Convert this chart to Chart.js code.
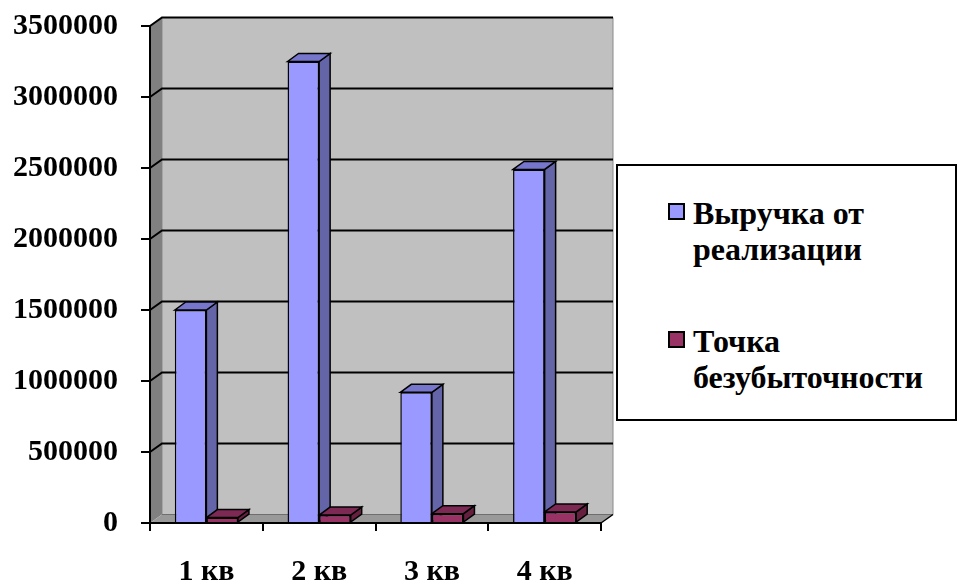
<!DOCTYPE html>
<html>
<head>
<meta charset="utf-8">
<script src="https://cdn.jsdelivr.net/npm/chart.js@4/dist/chart.umd.min.js"></script>
<style>
  html, body { margin: 0; padding: 0; background: #fff; }
  #wrap { position: relative; width: 958px; height: 582px; overflow: hidden; }
  #chart { position: absolute; left: 0; top: 0; }
  #legend {
    position: absolute; left: 616px; top: 164px; width: 341px; height: 257px;
    box-sizing: border-box; border: 2px solid #000; background: #fff;
    font: bold 32px "Liberation Serif", "Times New Roman", serif;
    line-height: 36px; color: #000;
  }
  .swatch { position: absolute; left: 50px; width: 17px; height: 17px; box-sizing: border-box; border: 2px solid #000; }
  .label { position: absolute; left: 75px; width: 258px; }
</style>
</head>
<body>
<div id="wrap">
  <canvas id="chart" width="958" height="582"></canvas>
  <div id="legend"></div>
</div>
<script>
// Quarters and the two series
const quarters = ['1 кв', '2 кв', '3 кв', '4 кв'];
const revenue = [1500000, 3250000, 920000, 2490000];
const breakEven = [38000, 56000, 66000, 78000];
const seriesNames = ['Выручка от реализации', 'Точка безубыточности'];
const yTickValues = [0, 500000, 1000000, 1500000, 2000000, 2500000, 3000000, 3500000];

// Face colours for the pseudo-3D columns: front, top, side
const faceColors = [
  { front: '#9999FF', top: '#7676CC', side: '#6464A8' },
  { front: '#993366', top: '#7C2A54', side: '#652040' }
];

// Depth offsets of the walls and of the columns
const WALL_DX = 12, WALL_DY = 8.5;
const BAR_DX = 11, BAR_DY = 8;

function poly(ctx, pts, fill, stroke, lw) {
  ctx.beginPath();
  ctx.moveTo(pts[0][0], pts[0][1]);
  for (let i = 1; i < pts.length; i++) ctx.lineTo(pts[i][0], pts[i][1]);
  ctx.closePath();
  if (fill) { ctx.fillStyle = fill; ctx.fill(); }
  if (stroke) { ctx.strokeStyle = stroke; ctx.lineWidth = lw || 1; ctx.stroke(); }
}

const depthPlugin = {
  id: 'depth3d',
  beforeDraw(chart) {
    const { ctx, chartArea: a, scales: { y } } = chart;
    ctx.save();
    // back wall
    poly(ctx, [[a.left + WALL_DX, a.top - WALL_DY], [a.right + WALL_DX, a.top - WALL_DY],
               [a.right + WALL_DX, a.bottom - WALL_DY], [a.left + WALL_DX, a.bottom - WALL_DY]],
         '#C0C0C0', '#8a8a8a', 1);
    // left side wall
    poly(ctx, [[a.left, a.top], [a.left + WALL_DX, a.top - WALL_DY],
               [a.left + WALL_DX, a.bottom - WALL_DY], [a.left, a.bottom]], '#808080');
    // floor
    poly(ctx, [[a.left, a.bottom], [a.right, a.bottom],
               [a.right + WALL_DX, a.bottom - WALL_DY], [a.left + WALL_DX, a.bottom - WALL_DY]], '#999999');
    ctx.lineJoin = 'miter';
    // floor edges
    ctx.beginPath();
    ctx.moveTo(a.left + WALL_DX, a.bottom - WALL_DY);
    ctx.lineTo(a.right + WALL_DX, a.bottom - WALL_DY);
    ctx.strokeStyle = '#6e6e6e'; ctx.lineWidth = 1; ctx.stroke();
    ctx.beginPath();
    ctx.moveTo(a.right, a.bottom);
    ctx.lineTo(a.right + WALL_DX, a.bottom - WALL_DY);
    ctx.strokeStyle = '#000'; ctx.lineWidth = 1.5; ctx.stroke();
    // gridlines running across the side wall and the back wall
    y.ticks.forEach(t => {
      if (t.value === 0) return;
      const py = y.getPixelForValue(t.value);
      ctx.beginPath();
      ctx.moveTo(a.left, py);
      ctx.lineTo(a.left + WALL_DX, py - WALL_DY);
      ctx.lineTo(a.right + WALL_DX, py - WALL_DY);
      ctx.strokeStyle = '#000'; ctx.lineWidth = 2; ctx.stroke();
    });
    ctx.restore();
  },
  beforeDatasetsDraw(chart) {
    const ctx = chart.ctx;
    ctx.save();
    ctx.lineJoin = 'miter';
    const n = chart.data.labels.length;
    for (let i = 0; i < n; i++) {
      chart.data.datasets.forEach((ds, d) => {
        const el = chart.getDatasetMeta(d).data[i];
        const p = el.getProps(['x', 'y', 'base', 'width'], true);
        const x1 = p.x - p.width / 2, x2 = p.x + p.width / 2;
        const c = faceColors[d];
        // side face
        poly(ctx, [[x2, p.y], [x2 + BAR_DX, p.y - BAR_DY], [x2 + BAR_DX, p.base - BAR_DY], [x2, p.base]],
             c.side, '#000', 1.5);
        // top face
        poly(ctx, [[x1, p.y], [x1 + BAR_DX, p.y - BAR_DY], [x2 + BAR_DX, p.y - BAR_DY], [x2, p.y]],
             c.top, '#000', 1.5);
      });
    }
    ctx.restore();
  }
};

const font = { family: '"Liberation Serif", "Times New Roman", serif', size: 30, weight: 'bold' };

new Chart(document.getElementById('chart'), {
  type: 'bar',
  data: {
    labels: quarters,
    datasets: [
      { label: seriesNames[0], data: revenue, backgroundColor: faceColors[0].front, borderColor: '#000', borderWidth: 1.5 },
      { label: seriesNames[1], data: breakEven, backgroundColor: faceColors[1].front, borderColor: '#000', borderWidth: 1.5 }
    ]
  },
  options: {
    responsive: false,
    animation: false,
    events: [],
    devicePixelRatio: 1,
    datasets: { bar: { categoryPercentage: 0.56, barPercentage: 1 } },
    layout: { padding: { top: 26, right: 357, left: 0, bottom: 0 } },
    plugins: { legend: { display: false }, tooltip: { enabled: false } },
    scales: {
      x: {
        z: 1,
        afterFit: s => { s.height = 59; s.paddingLeft = 0; s.paddingRight = 0; },
        ticks: { font, color: '#000', padding: 23 },
        grid: { drawOnChartArea: false, drawTicks: true, tickLength: 8, color: '#000', lineWidth: 2, offset: true },
        border: { display: true, color: '#000', width: 2 }
      },
      y: {
        z: 1,
        min: 0, max: 3500000,
        afterBuildTicks: s => { s.ticks = yTickValues.map(v => ({ value: v })); },
        afterFit: s => { s.width = 150; s.paddingTop = 0; s.paddingBottom = 0; },
        ticks: { font, color: '#000', padding: 23, callback: v => String(v) },
        grid: { drawOnChartArea: false, drawTicks: true, tickLength: 9, color: '#000', lineWidth: 2 },
        border: { display: true, color: '#000', width: 2 }
      }
    }
  },
  plugins: [depthPlugin]
});

// Legend box
const legend = document.getElementById('legend');
const legendTops = [29, 157];
seriesNames.forEach((name, i) => {
  const sw = document.createElement('div');
  sw.className = 'swatch';
  sw.style.top = (legendTops[i] + 8) + 'px';
  sw.style.background = faceColors[i].front;
  const lb = document.createElement('div');
  lb.className = 'label';
  lb.style.top = legendTops[i] + 'px';
  lb.textContent = name;
  legend.appendChild(sw);
  legend.appendChild(lb);
});
</script>
</body>
</html>
